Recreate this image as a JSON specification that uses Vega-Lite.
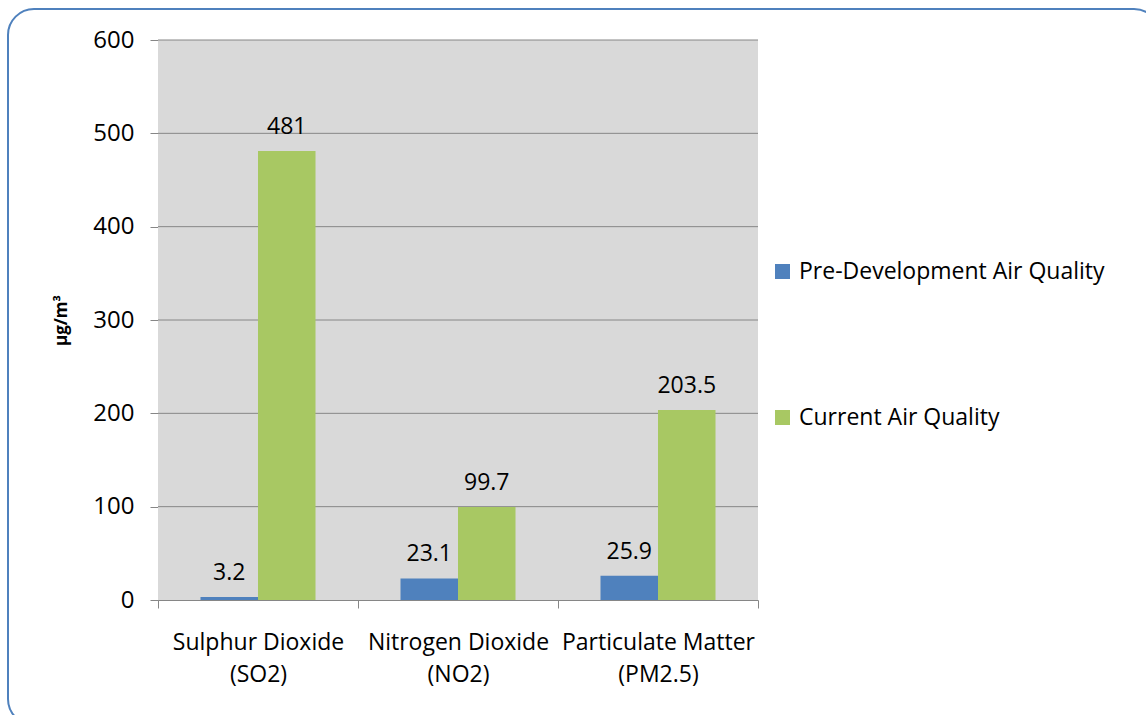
{
  "$schema": "https://vega.github.io/schema/vega-lite/v6.json",
  "autosize": {"type": "none"},
  "padding": {"left": 8, "top": 9, "right": 0, "bottom": 0},
  "width": 1152,
  "height": 716,
  "background": "white",
  "config": {
    "view": {"stroke": "#4f81bd", "strokeWidth": 2, "cornerRadius": 26, "fill": "white"},
    "font": "Open Sans",
    "axisY": {
      "offset": -150,
      "grid": false,
      "labelOverlap": false,
      "domainColor": "#868686",
      "tickColor": "#868686",
      "tickSize": 8,
      "labelFontSize": 24,
      "labelColor": "black",
      "labelPadding": 16,
      "titleFontSize": 17,
      "titleFontWeight": "bold",
      "titleColor": "black",
      "titleX": -88
    },
    "axisX": {
      "labelAngle": 0,
      "tickBand": "extent",
      "offset": -125,
      "grid": false,
      "domainColor": "#868686",
      "tickColor": "#868686",
      "tickSize": 8,
      "labelFontSize": 23,
      "labelColor": "black",
      "labelPadding": 23,
      "labelLineHeight": 32,
      "labelLimit": 400
    }
  },
  "datasets": {
    "air": [
      {"pollutant": "Sulphur Dioxide (SO2)", "series": "Pre-Development Air Quality", "value": 3.2},
      {"pollutant": "Sulphur Dioxide (SO2)", "series": "Current Air Quality", "value": 481},
      {"pollutant": "Nitrogen Dioxide (NO2)", "series": "Pre-Development Air Quality", "value": 23.1},
      {"pollutant": "Nitrogen Dioxide (NO2)", "series": "Current Air Quality", "value": 99.7},
      {"pollutant": "Particulate Matter (PM2.5)", "series": "Pre-Development Air Quality", "value": 25.9},
      {"pollutant": "Particulate Matter (PM2.5)", "series": "Current Air Quality", "value": 203.5}
    ],
    "gridlines": [
      {"level": 100}, {"level": 200}, {"level": 300}, {"level": 400}, {"level": 500}, {"level": 600}
    ],
    "plotarea": [{"from": 0, "to": 1, "low": 0, "high": 600}]
  },
  "layer": [
    {
      "layer": [
        {
          "data": {"name": "plotarea"},
          "mark": {"type": "rect", "fill": "#d9d9d9"},
          "encoding": {
            "x": {"field": "from", "type": "quantitative", "scale": {"domain": [0, 1], "range": [150, 750], "nice": false, "zero": false}, "axis": null},
            "x2": {"field": "to"},
            "y": {"field": "high", "type": "quantitative", "title": "µg/m³", "scale": {"domain": [0, 600], "range": [591, 31], "nice": false}},
            "y2": {"field": "low"}
          }
        },
        {
          "data": {"name": "gridlines"},
          "mark": {"type": "rule", "color": "#868686", "strokeWidth": 1},
          "encoding": {
            "x": {"datum": 0, "type": "quantitative", "axis": null},
            "x2": {"datum": 1},
            "y": {"field": "level", "type": "quantitative", "title": "µg/m³"}
          }
        }
      ]
    },
    {
      "data": {"name": "air"},
      "encoding": {
        "x": {
          "field": "pollutant",
          "type": "nominal",
          "sort": null,
          "title": null,
          "scale": {"range": [150, 750], "paddingInner": 0, "paddingOuter": 0},
          "axis": {
            "labelExpr": "[slice(datum.label, 0, indexof(datum.label, ' (')), slice(datum.label, indexof(datum.label, ' (') + 1)]"
          }
        },
        "xOffset": {
          "field": "series",
          "type": "nominal",
          "sort": ["Pre-Development Air Quality", "Current Air Quality"],
          "scale": {"paddingInner": 0, "paddingOuter": 0.739}
        },
        "y": {"field": "value", "type": "quantitative", "title": "µg/m³", "axis": {"values": [0, 100, 200, 300, 400, 500, 600]}}
      },
      "layer": [
        {
          "mark": {"type": "bar"},
          "encoding": {
            "color": {
              "field": "series",
              "type": "nominal",
              "scale": {"domain": ["Pre-Development Air Quality", "Current Air Quality"], "range": ["#4f81bd", "#a8c863"]},
              "legend": {
                "title": null,
                "orient": "none",
                "legendX": 763,
                "legendY": 251,
                "symbolType": "square",
                "symbolSize": 225,
                "symbolStrokeWidth": 0,
                "labelFontSize": 23,
                "labelColor": "black",
                "labelOffset": 5,
                "labelLimit": 400,
                "rowPadding": 122
              }
            }
          }
        },
        {
          "mark": {"type": "text", "dy": -17, "baseline": "alphabetic", "align": "center", "fontSize": 23, "color": "black"},
          "encoding": {
            "text": {"field": "value", "type": "quantitative"}
          }
        }
      ]
    }
  ],
  "resolve": {"scale": {"x": "independent"}}
}
